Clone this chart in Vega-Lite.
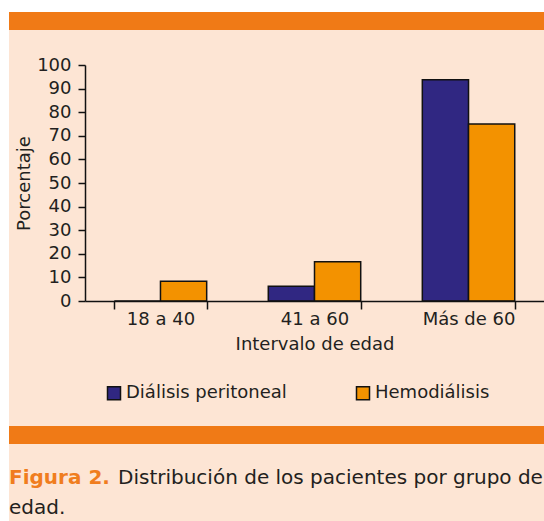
{
  "$schema": "https://vega.github.io/schema/vega-lite/v6.json",
  "autosize": {"type": "none"},
  "padding": {"left": 85, "top": 65, "right": 0, "bottom": 220},
  "width": 459,
  "height": 236,
  "background": "white",
  "config": {
    "view": {"stroke": null},
    "font": "DejaVu Sans",
    "axis": {
      "labelFont": "DejaVu Sans", "labelFontSize": 18, "labelColor": "#231f20",
      "titleFont": "DejaVu Sans", "titleFontSize": 18, "titleFontWeight": "normal", "titleColor": "#231f20",
      "domainColor": "#111", "domainWidth": 1.5, "tickColor": "#111", "tickWidth": 1.5, "grid": false
    },
    "legend": {"labelFont": "DejaVu Sans", "labelFontSize": 18, "labelColor": "#231f20"}
  },
  "layer": [
    {
      "data": {"values": [{}]},
      "mark": {"type": "rect", "fill": "#fde5d4"},
      "encoding": {"x": {"value": -76}, "x2": {"value": 459}, "y": {"value": -53}, "y2": {"value": 456}}
    },
    {
      "data": {"values": [{}]},
      "mark": {"type": "rect", "fill": "#f07a16"},
      "encoding": {"x": {"value": -76}, "x2": {"value": 459}, "y": {"value": -53}, "y2": {"value": -35}}
    },
    {
      "data": {"values": [{}]},
      "mark": {"type": "rect", "fill": "#f07a16"},
      "encoding": {"x": {"value": -76}, "x2": {"value": 459}, "y": {"value": 361}, "y2": {"value": 379}}
    },
    {
      "data": {"values": [
        {"grupo": "18 a 40", "tipo": "Diálisis peritoneal", "porcentaje": 0},
        {"grupo": "18 a 40", "tipo": "Hemodiálisis", "porcentaje": 8.33},
        {"grupo": "41 a 60", "tipo": "Diálisis peritoneal", "porcentaje": 6.25},
        {"grupo": "41 a 60", "tipo": "Hemodiálisis", "porcentaje": 16.67},
        {"grupo": "Más de 60", "tipo": "Diálisis peritoneal", "porcentaje": 93.75},
        {"grupo": "Más de 60", "tipo": "Hemodiálisis", "porcentaje": 75}
      ]},
      "mark": {"type": "bar", "stroke": "#111", "strokeWidth": 1.5},
      "encoding": {
        "x": {
          "field": "grupo", "type": "nominal", "sort": null,
          "scale": {"paddingInner": 0.4, "paddingOuter": 0.19},
          "axis": {"zindex": 2, "title": "Intervalo de edad", "labelAngle": 0, "tickBand": "extent", "tickSize": 8, "labelPadding": 1, "titlePadding": 7}
        },
        "xOffset": {"field": "tipo", "type": "nominal", "sort": null, "scale": {"paddingInner": 0, "paddingOuter": 0}},
        "y": {
          "field": "porcentaje", "type": "quantitative",
          "scale": {"domain": [0, 100], "nice": false},
          "axis": {"zindex": 2, "title": "Porcentaje", "values": [0,10,20,30,40,50,60,70,80,90,100], "tickSize": 7, "labelPadding": 7, "titlePadding": 3, "labelBaseline": "middle"}
        },
        "color": {
          "field": "tipo", "type": "nominal", "sort": null,
          "scale": {"domain": ["Diálisis peritoneal", "Hemodiálisis"], "range": ["#302782", "#f39200"]},
          "legend": {
            "title": null, "orient": "none", "legendX": 20, "legendY": 319,
            "direction": "horizontal", "columns": 2, "columnPadding": 66, "labelLimit": 400,
            "symbolType": "square", "symbolSize": 169, "symbolStrokeColor": "#111", "symbolStrokeWidth": 1.5,
            "labelOffset": 3
          }
        }
      }
    },
    {
      "data": {"values": [{}]},
      "mark": {"type": "text", "text": "Figura 2.", "align": "left", "baseline": "alphabetic", "font": "DejaVu Sans", "fontSize": 20, "fontWeight": "bold", "fill": "#f07d1e"},
      "encoding": {"x": {"value": -76}, "y": {"value": 419}}
    },
    {
      "data": {"values": [{}]},
      "mark": {"type": "text", "text": "Distribución de los pacientes por grupo de", "align": "left", "baseline": "alphabetic", "font": "DejaVu Sans", "fontSize": 20, "fill": "#231f20"},
      "encoding": {"x": {"value": 33}, "y": {"value": 419}}
    },
    {
      "data": {"values": [{}]},
      "mark": {"type": "text", "text": "edad.", "align": "left", "baseline": "alphabetic", "font": "DejaVu Sans", "fontSize": 20, "fill": "#231f20"},
      "encoding": {"x": {"value": -76}, "y": {"value": 449}}
    }
  ]
}
